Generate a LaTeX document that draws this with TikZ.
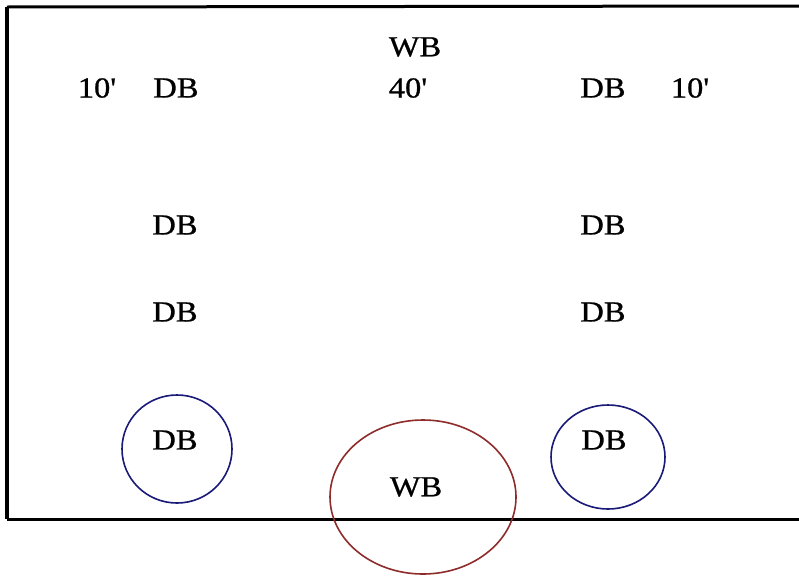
\documentclass[tikz,border=0pt]{standalone}
\usepackage{fontspec}
\setmainfont{Liberation Serif}
\newfontfamily\scanfont{Liberation Serif}[FakeBold=0.8]
\definecolor{dbblue}{HTML}{1A1A78}
\definecolor{wbred}{HTML}{8E2C2C}
\begin{document}
\begin{tikzpicture}[x=1pt,y=-1pt,
  lbl/.style={inner sep=0pt,font=\scanfont\fontsize{29}{34}\selectfont,xscale=1.12},
  frame/.style={line width=3pt,black},
  dbring/.style={draw=dbblue,line width=1.6pt},
  wbring/.style={draw=wbred,line width=1.6pt}]
\useasboundingbox (0,0) rectangle (799,576);
\fill[white] (0,0) rectangle (799,576);
% frame
\coordinate (tl) at (7,7);
\coordinate (tr) at (799,6);
\coordinate (bl) at (7,519);
\coordinate (br) at (799,519);
\draw[frame] (tr) -- (tl);
\draw[frame] (bl) -- (br);
\draw[line width=4pt] (tl) -- (bl);
% labels
\node[lbl] (wbtop) at (415,47) {WB};
\node[lbl] (tenl) at (97,88) {10'};
\node[lbl] (db1) at (176,88) {DB};
\node[lbl] (forty) at (408,88) {40'};
\node[lbl] (db2) at (603,88) {DB};
\node[lbl] (tenr) at (690,88) {10'};
\node[lbl] (db3) at (175,225) {DB};
\node[lbl] (db4) at (603,225) {DB};
\node[lbl] (db5) at (175,312) {DB};
\node[lbl] (db6) at (603,312) {DB};
\node[lbl] (db7) at (175,440) {DB};
\node[lbl] (db8) at (604,440) {DB};
\node[lbl] (wbbot) at (416,487) {WB};
% rings
\draw[dbring] (177,449) ellipse [x radius=55, y radius=54];
\draw[dbring] (608,457) ellipse [x radius=57, y radius=52];
\draw[wbring] (423,497) ellipse [x radius=93, y radius=77];
\end{tikzpicture}
\end{document}
